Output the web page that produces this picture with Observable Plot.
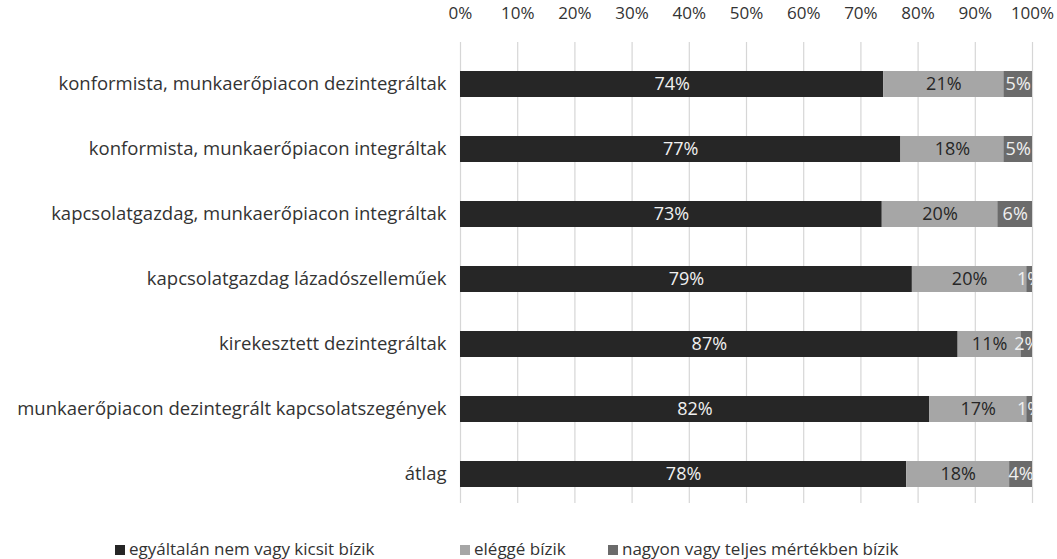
<!DOCTYPE html>
<html>
<head>
<meta charset="utf-8">
<script src="https://cdn.jsdelivr.net/npm/d3@7"></script>
<script src="https://cdn.jsdelivr.net/npm/@observablehq/plot@0.6"></script>
<style>
  body { margin: 0; background: #fff; font-family: "Open Sans", sans-serif; }
  #chart { width: 1057px; position: relative; }
  .legend { position: relative; height: 44px; font-size: 17px; color: #333; }
  .legend .item { position: absolute; top: 24px; white-space: nowrap; line-height: 20px; }
  .legend span.sw { display: inline-block; width: 10px; height: 10px; margin-right: 4px; vertical-align: 0px; }
</style>
</head>
<body>
<div id="chart"></div>
<script>
const categories = [
  "konformista, munkaerőpiacon dezintegráltak",
  "konformista, munkaerőpiacon integráltak",
  "kapcsolatgazdag, munkaerőpiacon integráltak",
  "kapcsolatgazdag lázadószelleműek",
  "kirekesztett dezintegráltak",
  "munkaerőpiacon dezintegrált kapcsolatszegények",
  "átlag"
];
const seriesNames = ["egyáltalán nem vagy kicsit bízik", "eléggé bízik", "nagyon vagy teljes mértékben bízik"];
const notTrust = [74, 77, 73, 79, 87, 82, 78];
const fairlyTrust = [21, 18, 20, 20, 11, 17, 18];
const veryTrust = [5, 5, 6, 1, 2, 1, 4];
const xTicks = [0, 0.1, 0.2, 0.3, 0.4, 0.5, 0.6, 0.7, 0.8, 0.9, 1];
const colors = ["#262626", "#a6a6a6", "#6b6b6b"];
const labelColors = ["#f0f0f0", "#262626", "#f0f0f0"];
const legendLeft = [115, 460, 608];

const seriesValues = [notTrust, fairlyTrust, veryTrust];
const data = [];
categories.forEach((c, i) => {
  seriesNames.forEach((s, j) => {
    data.push({category: c, series: s, value: seriesValues[j][i], order: j});
  });
});

const stackOpts = {offset: "normalize", order: seriesNames};

const plot = Plot.plot({
  width: 1057,
  height: 515,
  marginTop: 42,
  marginBottom: 12,
  marginLeft: 460,
  marginRight: 25,
  style: {fontFamily: "Open Sans, sans-serif", fontSize: "17px", color: "#333", overflow: "visible"},
  x: {domain: [0, 1], axis: null},
  y: {domain: categories, axis: null, paddingInner: 0.6, paddingOuter: 0.25, insetTop: 12},
  color: {domain: seriesNames, range: colors},
  marks: [
    Plot.gridX(xTicks, {stroke: "#d6d6d6", strokeOpacity: 1, strokeWidth: 1.2}),
    Plot.axisX(xTicks, {anchor: "top", tickSize: 0, tickPadding: 24, tickFormat: d => Math.round(d * 100) + "%", fontSize: 17, fill: "#333", label: null}),
    Plot.axisY({anchor: "left", tickSize: 0, tickPadding: 14, fontSize: 18.5, fill: "#333", label: null}),
    Plot.barX(data, Plot.stackX({...stackOpts, x: "value", y: "category", fill: "series"})),
    Plot.text(data, Plot.stackX({...stackOpts, x: "value", y: "category", z: "series",
      text: d => d.value + "%",
      fill: d => labelColors[d.order],
      fontSize: 18,
      clip: "frame"
    }))
  ]
});
document.getElementById("chart").appendChild(plot);

const legend = document.createElement("div");
legend.className = "legend";
seriesNames.forEach((s, j) => {
  const item = document.createElement("div");
  item.className = "item";
  item.style.left = legendLeft[j] + "px";
  const sw = document.createElement("span");
  sw.className = "sw";
  sw.style.background = colors[j];
  item.appendChild(sw);
  item.appendChild(document.createTextNode(s));
  legend.appendChild(item);
});
document.getElementById("chart").appendChild(legend);
</script>
</body>
</html>
